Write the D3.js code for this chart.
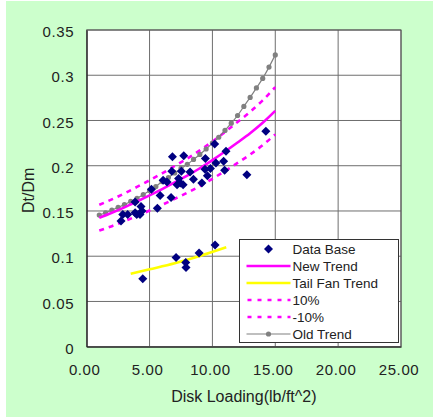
<!DOCTYPE html>
<html>
<head>
<meta charset="utf-8">
<script src="https://cdn.jsdelivr.net/npm/d3@7"></script>
<style>
	body { margin: 0; background: #fff; }
	text { font-family: "Liberation Sans", Arial, sans-serif; fill: #222; }
</style>
</head>
<body>
<div id="graph"></div>
<script>
// scattered measurements
const dataBaseX = [2.73, 2.87, 3.26, 3.85, 3.85, 3.98, 4.24, 4.32, 4.40, 5.15, 5.62, 5.84, 6.08, 6.39, 6.71,
	6.77, 6.82, 7.19, 7.31, 7.45, 7.67, 7.53, 7.72, 8.22, 8.49, 9.16, 9.44, 9.41, 9.60, 9.84, 10.18, 10.28,
	10.89, 10.97, 11.08, 12.74, 14.25,
	4.46, 7.11, 7.88, 7.90, 8.94, 10.21];
const dataBaseY = [0.139, 0.146, 0.146, 0.148, 0.160, 0.146, 0.146, 0.155, 0.150, 0.174, 0.153, 0.167, 0.184, 0.182, 0.165,
	0.194, 0.210, 0.179, 0.186, 0.181, 0.179, 0.194, 0.211, 0.193, 0.185, 0.181, 0.208, 0.196, 0.189, 0.197, 0.224, 0.203,
	0.205, 0.195, 0.216, 0.190, 0.238,
	0.075, 0.0985, 0.093, 0.0875, 0.1035, 0.1125];

// trend curves
const trendX = [1, 2, 3, 4, 5, 6, 7, 8, 9, 10, 11, 12, 13, 14, 15];
const newTrend = [0.1425, 0.1480, 0.1540, 0.1605, 0.1672, 0.1742, 0.1815, 0.1890, 0.1972, 0.2062, 0.2157, 0.2257, 0.2360, 0.2475, 0.2607];
const plus10 = [0.1568, 0.1628, 0.1694, 0.1766, 0.1839, 0.1916, 0.1997, 0.2079, 0.2169, 0.2268, 0.2373, 0.2483, 0.2596, 0.2723, 0.2868];
const minus10 = [0.1283, 0.1332, 0.1386, 0.1445, 0.1505, 0.1568, 0.1634, 0.1701, 0.1775, 0.1856, 0.1941, 0.2031, 0.2124, 0.2228, 0.2346];

const tailX = [3.5, 5, 7, 9, 11.1];
const tailTrend = [0.0806, 0.0855, 0.0922, 0.1003, 0.1099];

const oldX = [1, 1.5, 2, 2.5, 3, 3.5, 4, 4.5, 5, 5.5, 6, 6.5, 7, 7.5, 8, 8.5, 9, 9.5, 10, 10.5, 11, 11.5, 12, 12.5, 13, 13.5, 14, 14.5, 15];
const oldTrend = [0.1455, 0.148, 0.151, 0.154, 0.157, 0.1605, 0.164, 0.168, 0.1725, 0.177, 0.1825, 0.187, 0.192, 0.197, 0.2015,
	0.207, 0.2125, 0.2185, 0.225, 0.2315, 0.239, 0.247, 0.2555, 0.2655, 0.2755, 0.286, 0.2965, 0.309, 0.3225];

const xTicks = [0, 5, 10, 15, 20, 25];
const xTickLabels = ["0.00", "5.00", "10.00", "15.00", "20.00", "25.00"];
const yTicks = [0, 0.05, 0.1, 0.15, 0.2, 0.25, 0.3, 0.35];
const yTickLabels = ["0", "0.05", "0.1", "0.15", "0.2", "0.25", "0.3", "0.35"];

const legendNames = ["Data Base", "New Trend", "Tail Fan Trend", "10%", "-10%", "Old Trend"];

// dimensions
const width = 433, height = 420;
const plot = {left: 86.7, right: 401, top: 30, bottom: 346.7};

const x = d3.scaleLinear().domain([0, 25]).range([plot.left, plot.right]);
const y = d3.scaleLinear().domain([0, 0.35]).range([plot.bottom, plot.top]);

const svg = d3.select("#graph").append("svg")
	.attr("width", width)
	.attr("height", height);

// green chart background
svg.append("rect")
	.attr("x", 6).attr("y", 1)
	.attr("width", width - 6).attr("height", 416)
	.attr("fill", "#ccffcc");

svg.append("rect")
	.attr("x", plot.left).attr("y", plot.top)
	.attr("width", plot.right - plot.left).attr("height", plot.bottom - plot.top)
	.attr("fill", "#fff");

// gridlines
svg.append("g")
	.selectAll("line.v")
	.data(xTicks)
	.join("line")
		.attr("x1", d => x(d)).attr("x2", d => x(d))
		.attr("y1", plot.top).attr("y2", plot.bottom)
		.attr("stroke", "#6e6e6e");
svg.append("g")
	.selectAll("line.h")
	.data(yTicks)
	.join("line")
		.attr("x1", plot.left).attr("x2", plot.right)
		.attr("y1", d => y(d)).attr("y2", d => y(d))
		.attr("stroke", "#6e6e6e");

svg.append("rect")
	.attr("x", plot.left).attr("y", plot.top)
	.attr("width", plot.right - plot.left).attr("height", plot.bottom - plot.top)
	.attr("fill", "none")
	.attr("stroke", "#555");

// axes
const xAxis = g => g
	.attr("transform", `translate(0,${plot.bottom})`)
	.call(d3.axisBottom(x).tickValues(xTicks).tickSize(0).tickPadding(18)
		.tickFormat((d, i) => xTickLabels[i]))
	.call(g => g.selectAll("text").attr("dx", -2.5))
	.call(g => g.select(".domain").attr("stroke", "#222"));

const yAxis = g => g
	.attr("transform", `translate(${plot.left},0)`)
	.call(d3.axisLeft(y).tickValues(yTicks).tickSize(0).tickPadding(12.5)
		.tickFormat((d, i) => yTickLabels[i]))
	.call(g => g.selectAll("text").attr("dy", "0.45em"))
	.call(g => g.select(".domain").attr("stroke", "#222"));

svg.append("g").call(xAxis)
	.attr("font-family", null).attr("font-size", 15)
	.selectAll("text").style("letter-spacing", "0.6px");
svg.append("g").call(yAxis)
	.attr("font-family", null).attr("font-size", 15)
	.selectAll("text").style("letter-spacing", "0.6px");

svg.append("text")
	.attr("x", (plot.left + plot.right) / 2)
	.attr("y", 402)
	.attr("text-anchor", "middle")
	.attr("font-size", 16)
	.text("Disk Loading(lb/ft^2)");

svg.append("text")
	.attr("transform", `translate(34,${(plot.top + plot.bottom) / 2 + 2}) rotate(-90)`)
	.attr("text-anchor", "middle")
	.attr("font-size", 16)
	.text("Dt/Dm");

// lines
const line = (xs) => d3.line()
	.x((d, i) => x(xs[i]))
	.y(d => y(d))
	.curve(d3.curveMonotoneX);

svg.append("path")
	.attr("fill", "none").attr("stroke", "#ff00ff").attr("stroke-width", 2.6)
	.attr("stroke-dasharray", "5,5")
	.attr("d", line(trendX)(plus10));
svg.append("path")
	.attr("fill", "none").attr("stroke", "#ff00ff").attr("stroke-width", 2.6)
	.attr("stroke-dasharray", "5,5")
	.attr("d", line(trendX)(minus10));

svg.append("path")
	.attr("fill", "none").attr("stroke", "#808080").attr("stroke-width", 1.2)
	.attr("d", line(oldX)(oldTrend));
svg.append("g")
	.selectAll("circle")
	.data(oldTrend)
	.join("circle")
		.attr("cx", (d, i) => x(oldX[i]))
		.attr("cy", d => y(d))
		.attr("r", 2.6)
		.attr("fill", "#808080");

svg.append("path")
	.attr("fill", "none").attr("stroke", "#ff00ff").attr("stroke-width", 2.6)
	.attr("d", line(trendX)(newTrend));

svg.append("path")
	.attr("fill", "none").attr("stroke", "#ffff00").attr("stroke-width", 2.6)
	.attr("d", line(tailX)(tailTrend));

// data base diamonds
const diamond = d3.symbol().type(d3.symbolDiamond2).size(52);
svg.append("g")
	.selectAll("path")
	.data(dataBaseY)
	.join("path")
		.attr("transform", (d, i) => `translate(${x(dataBaseX[i])},${y(d)})`)
		.attr("d", diamond)
		.attr("fill", "#000080");

// legend
const legend = svg.append("g").attr("transform", "translate(239.5,239.5)");
legend.append("rect")
	.attr("width", 159).attr("height", 103)
	.attr("fill", "#fff").attr("stroke", "#333");

const rowY = i => 9.5 + i * 17;
const sx1 = 7, sx2 = 51;

legend.append("path")
	.attr("transform", `translate(${(sx1 + sx2) / 2},${rowY(0)})`)
	.attr("d", diamond).attr("fill", "#000080");
legend.append("line")
	.attr("x1", sx1).attr("x2", sx2).attr("y1", rowY(1)).attr("y2", rowY(1))
	.attr("stroke", "#ff00ff").attr("stroke-width", 2.6);
legend.append("line")
	.attr("x1", sx1).attr("x2", sx2).attr("y1", rowY(2)).attr("y2", rowY(2))
	.attr("stroke", "#ffff00").attr("stroke-width", 2.6);
[3, 4].forEach(r => legend.append("line")
	.attr("x1", sx1 + 1).attr("x2", sx2).attr("y1", rowY(r)).attr("y2", rowY(r))
	.attr("stroke", "#ff00ff").attr("stroke-width", 2.6)
	.attr("stroke-dasharray", "4,6"));
legend.append("line")
	.attr("x1", sx1).attr("x2", sx2).attr("y1", rowY(5)).attr("y2", rowY(5))
	.attr("stroke", "#808080").attr("stroke-width", 1.2);
legend.append("circle")
	.attr("cx", (sx1 + sx2) / 2).attr("cy", rowY(5)).attr("r", 2.6)
	.attr("fill", "#808080");

legend.selectAll("text.name")
	.data(legendNames)
	.join("text")
		.attr("x", 53)
		.attr("y", (d, i) => rowY(i))
		.attr("dy", "0.36em")
		.attr("font-size", 13.5)
		.style("font-family", "'Liberation Sans Narrow', 'Liberation Sans', Arial, sans-serif")
		.text(d => d);
</script>
</body>
</html>
